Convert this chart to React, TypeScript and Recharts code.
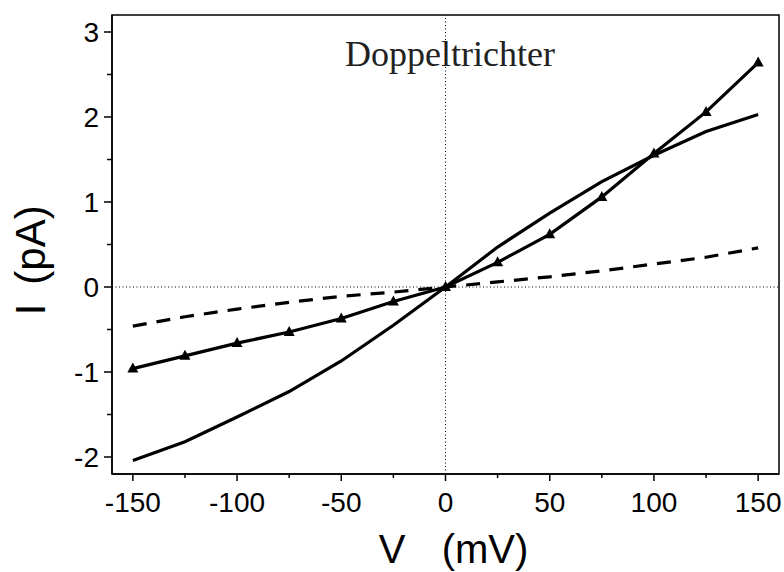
import React from 'react';
import { LineChart, Line, XAxis, YAxis, ReferenceLine, ReferenceArea } from 'recharts';

const voltages = [-150, -125, -100, -75, -50, -25, 0, 25, 50, 75, 100, 125, 150];
const currentSolid = [-2.04, -1.82, -1.53, -1.23, -0.87, -0.45, 0, 0.47, 0.87, 1.24, 1.55, 1.83, 2.03];
const currentTriangle = [-0.96, -0.81, -0.66, -0.53, -0.37, -0.17, 0, 0.29, 0.62, 1.06, 1.57, 2.06, 2.64];
const currentDashed = [-0.46, -0.35, -0.26, -0.18, -0.11, -0.06, 0, 0.06, 0.12, 0.19, 0.27, 0.35, 0.46];

const xTicks = [-150, -125, -100, -75, -50, -25, 0, 25, 50, 75, 100, 125, 150];
const xMajor = [-150, -100, -50, 0, 50, 100, 150];
const yTicks = [-2, -1.5, -1, -0.5, 0, 0.5, 1, 1.5, 2, 2.5, 3];
const yMajor = [-2, -1, 0, 1, 2, 3];
const xDomain = [-160, 160];
const yDomain = [-2.2, 3.2];

const titleText = 'Doppeltrichter';
const xTitleVar = 'V';
const xTitleUnit = '(mV)';
const yTitleVar = 'I';
const yTitleUnit = '(pA)';

const data = voltages.map((v, i) => ({
  v,
  solid: currentSolid[i],
  tri: currentTriangle[i],
  dash: currentDashed[i],
}));

const SANS = '"Liberation Sans", Arial, sans-serif';
const SERIF = '"Liberation Serif", "Times New Roman", serif';

const XTick = (props: any) => {
  const { x, y, payload } = props;
  const major = xMajor.includes(payload.value);
  return (
    <g>
      <line x1={x} x2={x} y1={y} y2={y + (major ? 7 : 4)} stroke="#000" strokeWidth={1.5} />
      {major && (
        <text x={x} y={y + 38} textAnchor="middle" fontSize={28} fontFamily={SANS} fill="#000">
          {payload.value}
        </text>
      )}
    </g>
  );
};

const YTick = (props: any) => {
  const { x, y, payload } = props;
  const major = yMajor.includes(payload.value);
  return (
    <g>
      <line x1={x - (major ? 8 : 5)} x2={x} y1={y} y2={y} stroke="#000" strokeWidth={1.5} />
      {major && (
        <text x={x - 13} y={y + 10} textAnchor="end" fontSize={28} fontFamily={SANS} fill="#000">
          {payload.value}
        </text>
      )}
    </g>
  );
};

const Triangle = (props: any) => {
  const { cx, cy } = props;
  if (cx == null || cy == null) return null;
  return <polygon points={`${cx},${cy - 6} ${cx - 5.5},${cy + 4} ${cx + 5.5},${cy + 4}`} fill="#000" />;
};

const TitleLabel = () => (
  <text x={450} y={66} textAnchor="middle" fontSize={36} fontFamily={SERIF} fill="#222">
    {titleText}
  </text>
);

const XTitle = () => (
  <g>
    <text x={392} y={563} textAnchor="middle" fontSize={40} fontFamily={SANS} fill="#000">
      {xTitleVar}
    </text>
    <text x={485} y={563} textAnchor="middle" fontSize={40} fontFamily={SANS} fill="#000">
      {xTitleUnit}
    </text>
  </g>
);

const YTitle = () => (
  <g>
    <text transform="translate(45,309.5) rotate(-90)" textAnchor="middle" fontSize={42} fontFamily={SANS} fill="#000">
      {yTitleVar}
    </text>
    <text transform="translate(45,245) rotate(-90)" textAnchor="middle" fontSize={42} fontFamily={SANS} fill="#000">
      {yTitleUnit}
    </text>
  </g>
);

export default function App() {
  return (
    <div style={{ position: 'absolute', left: 0, top: 0, background: '#fff' }}>
      <LineChart width={784} height={572} data={data} margin={{ top: 15, right: 5, bottom: 38, left: 52 }}>
        <XAxis
          dataKey="v"
          type="number"
          domain={xDomain}
          ticks={xTicks}
          interval={0}
          allowDataOverflow
          height={60}
          tickSize={0}
          tickMargin={0}
          tickLine={false}
          tick={<XTick />}
          axisLine={{ stroke: '#000', strokeWidth: 1.5 }}
          label={<XTitle />}
        />
        <YAxis
          type="number"
          domain={yDomain}
          ticks={yTicks}
          interval={0}
          allowDataOverflow
          width={60}
          tickSize={0}
          tickMargin={0}
          tickLine={false}
          tick={<YTick />}
          axisLine={{ stroke: '#000', strokeWidth: 1.5 }}
          label={<YTitle />}
        />
        <ReferenceArea
          x1={xDomain[0]}
          x2={xDomain[1]}
          y1={yDomain[0]}
          y2={yDomain[1]}
          fill="none"
          fillOpacity={0}
          stroke="#000"
          strokeWidth={1.5}
          ifOverflow="visible"
          label={<TitleLabel />}
        />
        <ReferenceLine x={0} stroke="#000" strokeWidth={1} strokeDasharray="1 2.5" />
        <ReferenceLine y={0} stroke="#000" strokeWidth={1} strokeDasharray="1 2.5" />
        <Line type="linear" dataKey="dash" stroke="#000" strokeWidth={3.2} strokeDasharray="14 10" dot={false} isAnimationActive={false} />
        <Line type="linear" dataKey="solid" stroke="#000" strokeWidth={3.2} dot={false} isAnimationActive={false} />
        <Line type="linear" dataKey="tri" stroke="#000" strokeWidth={3.2} dot={<Triangle />} isAnimationActive={false} />
      </LineChart>
    </div>
  );
}
